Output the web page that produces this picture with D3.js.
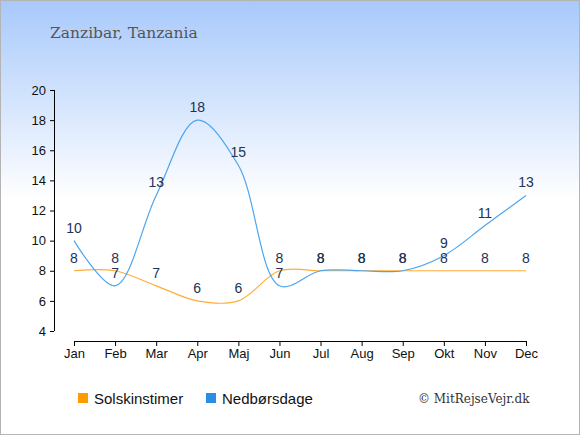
<!DOCTYPE html>
<html>
<head>
<meta charset="utf-8">
<script src="https://cdn.jsdelivr.net/npm/d3@7"></script>
<style>
  body { margin: 0; }
  svg { display: block; }
</style>
</head>
<body>
<div id="chart"></div>
<script>
var months = ["Jan", "Feb", "Mar", "Apr", "Maj", "Jun", "Jul", "Aug", "Sep", "Okt", "Nov", "Dec"];
var sunHours = [8, 8, 7, 6, 6, 8, 8, 8, 8, 8, 8, 8];
var rainDays = [10, 7, 13, 18, 15, 7, 8, 8, 8, 9, 11, 13];
var yTicks = [4, 6, 8, 10, 12, 14, 16, 18, 20];

var W = 580, H = 435;

var svg = d3.select("#chart").append("svg")
    .attr("width", W)
    .attr("height", H);

var grad = svg.append("defs").append("linearGradient")
    .attr("id", "bg")
    .attr("x1", 0).attr("y1", 0).attr("x2", 0).attr("y2", 1);
grad.append("stop").attr("offset", "0").attr("stop-color", "#a8c9fb");
grad.append("stop").attr("offset", "0.46").attr("stop-color", "#ffffff");
grad.append("stop").attr("offset", "1").attr("stop-color", "#ffffff");

svg.append("rect")
    .attr("x", 0.5).attr("y", 0.5)
    .attr("width", W - 1).attr("height", H - 1)
    .attr("fill", "url(#bg)")
    .attr("stroke", "#b4b4b4");

svg.append("text")
    .attr("x", 50).attr("y", 38)
    .attr("font-family", "'DejaVu Serif', 'Liberation Serif', serif")
    .attr("font-size", 15.5)
    .attr("fill", "#555")
    .text("Zanzibar, Tanzania");

var x = d3.scalePoint().domain(months).range([74, 526]);
var y = d3.scaleLinear().domain([4, 20]).range([331, 90]);

var xAxis = svg.append("g")
    .attr("transform", "translate(0,341)")
    .call(d3.axisBottom(x).tickSizeOuter(0).tickSize(5).tickPadding(3));
xAxis.select(".domain").attr("d", "M74,0.5H526");

var yAxis = svg.append("g")
    .attr("transform", "translate(54,0)")
    .call(d3.axisLeft(y).tickValues(yTicks).tickSizeOuter(0).tickSize(4).tickPadding(4));
yAxis.select(".domain").attr("d", "M0.5,90V331");

svg.selectAll(".tick text")
    .attr("font-family", "'Liberation Sans', Arial, sans-serif")
    .attr("font-size", 13)
    .attr("fill", "#111");
svg.selectAll(".domain, .tick line").attr("stroke", "#000");

var line = d3.line()
    .x(function(d, i) { return x(months[i]); })
    .y(function(d) { return y(d); })
    .curve(d3.curveCatmullRom.alpha(0.5));

svg.append("path")
    .attr("d", line(sunHours))
    .attr("fill", "none")
    .attr("stroke", "#ffad3b")
    .attr("stroke-width", 1.2);

svg.append("path")
    .attr("d", line(rainDays))
    .attr("fill", "none")
    .attr("stroke", "#4ea5ee")
    .attr("stroke-width", 1.2);

function labels(data) {
  svg.append("g").selectAll("text")
    .data(data)
    .enter().append("text")
      .attr("x", function(d, i) { return x(months[i]); })
      .attr("y", function(d) { return y(d) - 8; })
      .attr("text-anchor", "middle")
      .attr("font-family", "'Liberation Sans', Arial, sans-serif")
      .attr("font-size", 14)
      .attr("fill", "#223355")
      .text(function(d) { return d; });
}
labels(sunHours);
labels(rainDays);

var legend = [
  { name: "Solskinstimer", color: "#ff9a00", x: 78 },
  { name: "Nedbørsdage", color: "#2b8ee3", x: 206 }
];
var lg = svg.append("g").selectAll("g")
    .data(legend)
    .enter().append("g")
      .attr("transform", function(d) { return "translate(" + d.x + ",393)"; });
lg.append("rect")
    .attr("width", 10).attr("height", 10)
    .attr("fill", function(d) { return d.color; });
lg.append("text")
    .attr("x", 16).attr("y", 10.5)
    .attr("font-family", "'Liberation Sans', Arial, sans-serif")
    .attr("font-size", 15)
    .attr("fill", "#111")
    .text(function(d) { return d.name; });

svg.append("text")
    .attr("x", 418).attr("y", 403)
    .attr("font-family", "'DejaVu Serif', 'Liberation Serif', serif")
    .attr("font-size", 12)
    .attr("fill", "#333")
    .text("© MitRejseVejr.dk");
</script>
</body>
</html>
